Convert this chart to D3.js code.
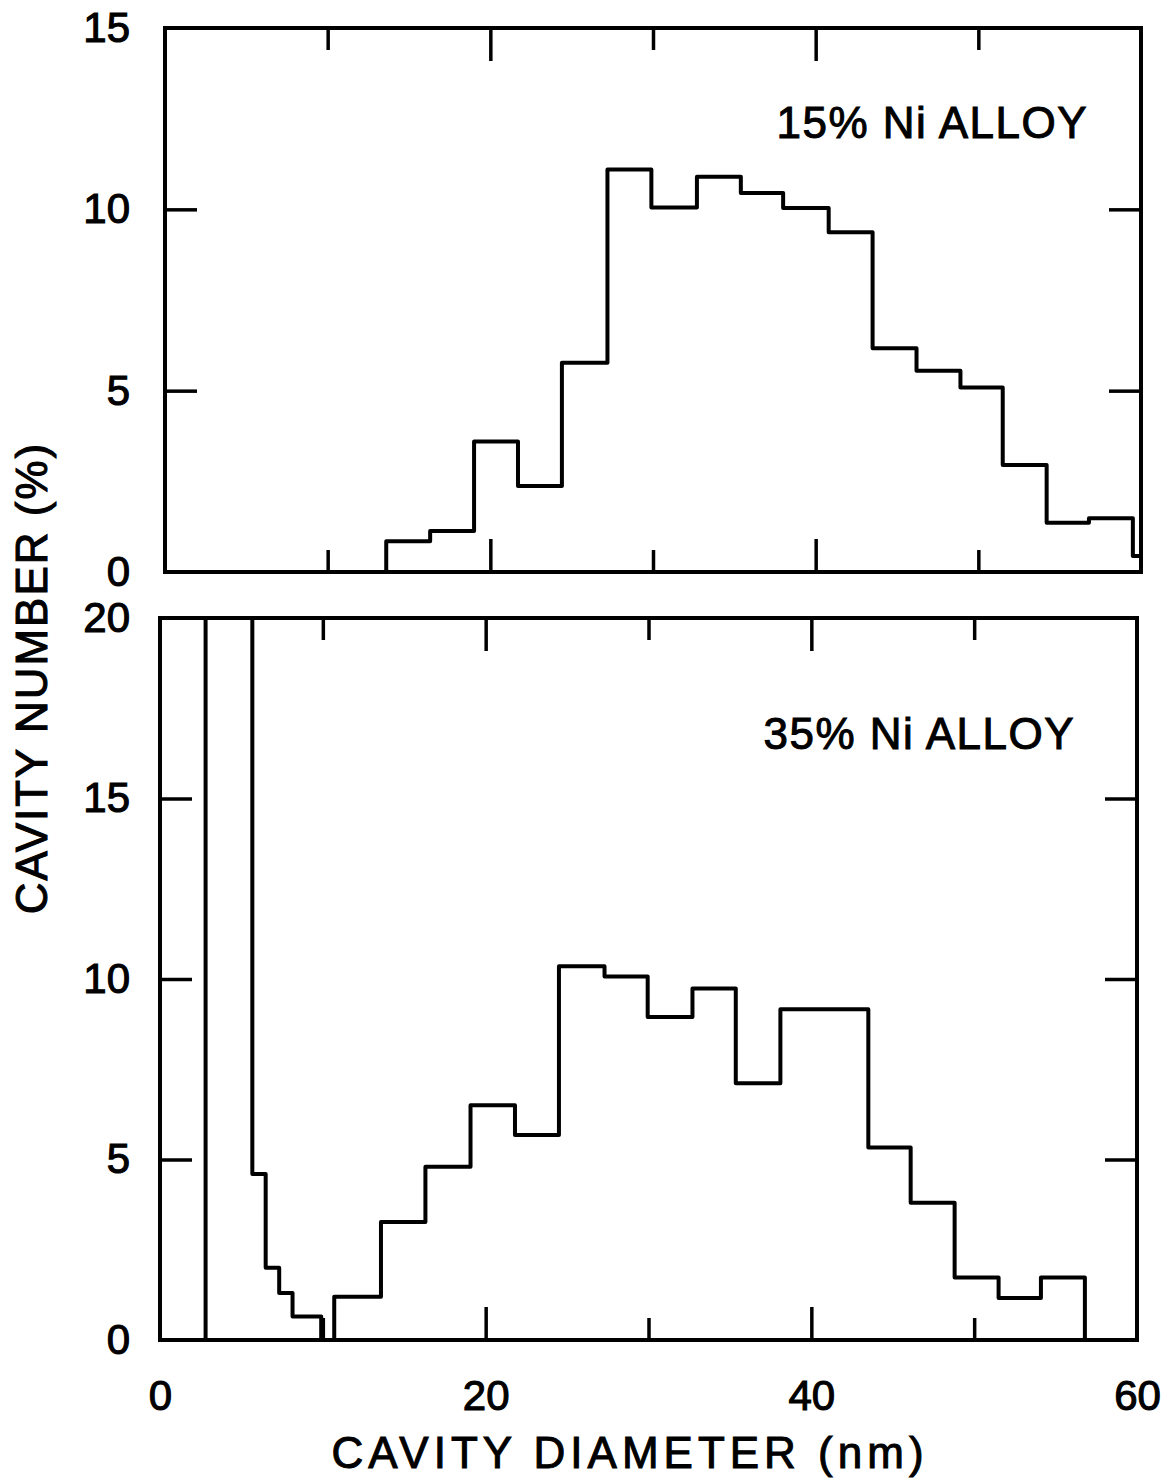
<!DOCTYPE html>
<html>
<head>
<meta charset="utf-8">
<script src="https://cdnjs.cloudflare.com/ajax/libs/d3/7.8.5/d3.min.js"></script>
<style>
  body { margin: 0; background: #fff; }
  text { font-family: 'Liberation Sans', Arial, Helvetica, sans-serif; fill: #000; }
</style>
</head>
<body>
<div id="chart"></div>
<script>
/* globals d3 */

// 15% Ni alloy: bin edges (nm) and cavity number (%)
let edges15 = [13.6, 16.3, 19.0, 21.7, 24.4, 27.2, 29.9, 32.7, 35.4, 38.0, 40.8, 43.5, 46.2, 48.9, 51.5, 54.2, 56.8, 59.5, 60]
let values15 = [0.85, 1.13, 3.6, 2.37, 5.77, 11.1, 10.05, 10.9, 10.45, 10.04, 9.37, 6.17, 5.55, 5.09, 2.95, 1.36, 1.48, 0.44]

// 35% Ni alloy: first bin runs off the top of the scale
let edges35 = [2.8, 5.67, 6.49, 7.32, 8.14, 9.9, 10.7, 13.57, 16.3, 19.07, 21.8, 24.5, 27.3, 29.95, 32.7, 35.36, 38.1, 43.5, 46.1, 48.8, 51.5, 54.1, 56.8]
let values35 = [40, 4.6, 2.0, 1.3, 0.65, 0, 1.2, 3.27, 4.8, 6.5, 5.68, 10.35, 10.07, 8.95, 9.74, 7.11, 9.16, 5.33, 3.8, 1.73, 1.16, 1.73]

let xMajor = [20, 40]
let xMinor = [10, 30, 50]
let xLabels = [0, 20, 40, 60]
let yTicks15 = [0, 5, 10, 15]
let yTicks35 = [0, 5, 10, 15, 20]

let W = 1173
let H = 1484
let fontSize = 42

let svg = d3.select('#chart').append('svg').attr('width', W).attr('height', H)

function stepPoints (edges, values) {
  let pts = [[edges[0], 0]]
  values.forEach((v, i) => {
    pts.push([edges[i], v])
    pts.push([edges[i + 1], v])
  })
  pts.push([edges[edges.length - 1], 0])
  return pts
}

function styleText (sel) {
  sel.selectAll('text')
      .attr('font-size', fontSize)
      .attr('font-family', null)
      .attr('fill', '#000')
      .attr('stroke', '#000')
      .attr('stroke-width', 1.1)
}

function panel (opt) {
  let x = d3.scaleLinear().domain([0, 60]).range([opt.left, opt.right])
  let y = d3.scaleLinear().domain([0, opt.ymax]).range([opt.bottom, opt.top])
  let g = svg.append('g')

  g.append('clipPath').attr('id', opt.id)
    .append('rect')
      .attr('x', opt.left).attr('y', opt.top)
      .attr('width', opt.right - opt.left).attr('height', opt.bottom - opt.top)

  let tickAxes = [
    d3.axisBottom(x).tickValues(xMajor).tickSize(-33),
    d3.axisBottom(x).tickValues(xMinor).tickSize(-22),
    d3.axisTop(x).tickValues(xMajor).tickSize(-33),
    d3.axisTop(x).tickValues(xMinor).tickSize(-22)
  ]
  tickAxes.forEach((a, i) => {
    g.append('g')
        .attr('transform', `translate(0,${i < 2 ? opt.bottom : opt.top})`)
        .call(a.tickFormat(''))
        .call((s) => s.select('.domain').remove())
        .selectAll('line').attr('stroke', '#000').attr('stroke-width', 3.5)
  })

  let inner = opt.yticks.slice(1, -1)
  g.append('g').attr('transform', `translate(${opt.left},0)`)
      .call(d3.axisLeft(y).tickValues(inner).tickSize(-32).tickFormat(''))
      .call((s) => s.select('.domain').remove())
      .selectAll('line').attr('stroke', '#000').attr('stroke-width', 3.5)
  g.append('g').attr('transform', `translate(${opt.right},0)`)
      .call(d3.axisRight(y).tickValues(inner).tickSize(-32).tickFormat(''))
      .call((s) => s.select('.domain').remove())
      .selectAll('line').attr('stroke', '#000').attr('stroke-width', 3.5)

  // y tick labels
  g.append('g').attr('transform', `translate(${opt.left},0)`)
      .call(d3.axisLeft(y).tickValues(opt.yticks).tickSize(0).tickPadding(opt.left - 130))
      .call((s) => s.select('.domain').remove())
      .call(styleText)

  g.append('rect')
      .attr('x', opt.left).attr('y', opt.top)
      .attr('width', opt.right - opt.left).attr('height', opt.bottom - opt.top)
      .attr('fill', 'none').attr('stroke', '#000').attr('stroke-width', 4)

  let line = d3.line().x((d) => x(d[0])).y((d) => y(d[1]))
  g.append('path')
      .datum(stepPoints(opt.edges, opt.values))
      .attr('clip-path', `url(#${opt.id})`)
      .attr('d', line)
      .attr('fill', 'none')
      .attr('stroke', '#000')
      .attr('stroke-width', 4)
      .attr('stroke-linejoin', 'round')

  g.append('text')
      .attr('x', opt.labelX).attr('y', opt.labelY)
      .attr('text-anchor', 'end')
      .attr('font-size', fontSize + 2)
      .attr('letter-spacing', 1.5)
      .attr('stroke', '#000').attr('stroke-width', 1)
      .text(opt.label)

  return x
}

panel({ id: 'c15', left: 165, right: 1141, top: 28, bottom: 572, ymax: 15, yticks: yTicks15,
  edges: edges15, values: values15, label: '15% Ni ALLOY', labelX: 1088, labelY: 138 })

let xb = panel({ id: 'c35', left: 160, right: 1137, top: 618, bottom: 1340, ymax: 20, yticks: yTicks35,
  edges: edges35, values: values35, label: '35% Ni ALLOY', labelX: 1075, labelY: 749 })

// x tick labels under the lower panel
svg.append('g').attr('transform', 'translate(0,1340)')
    .call(d3.axisBottom(xb).tickValues(xLabels).tickSize(0).tickPadding(40))
    .call((s) => s.select('.domain').remove())
    .call(styleText)

svg.append('text')
    .attr('x', 630).attr('y', 1468)
    .attr('text-anchor', 'middle')
    .attr('font-size', fontSize + 2)
    .attr('letter-spacing', 5)
    .attr('stroke', '#000').attr('stroke-width', 1)
    .text('CAVITY DIAMETER (nm)')

svg.append('text')
    .attr('transform', 'translate(47,678) rotate(-90)')
    .attr('text-anchor', 'middle')
    .attr('font-size', fontSize + 2)
    .attr('letter-spacing', 2)
    .attr('stroke', '#000').attr('stroke-width', 1)
    .text('CAVITY NUMBER (%)')
</script>
</body>
</html>
